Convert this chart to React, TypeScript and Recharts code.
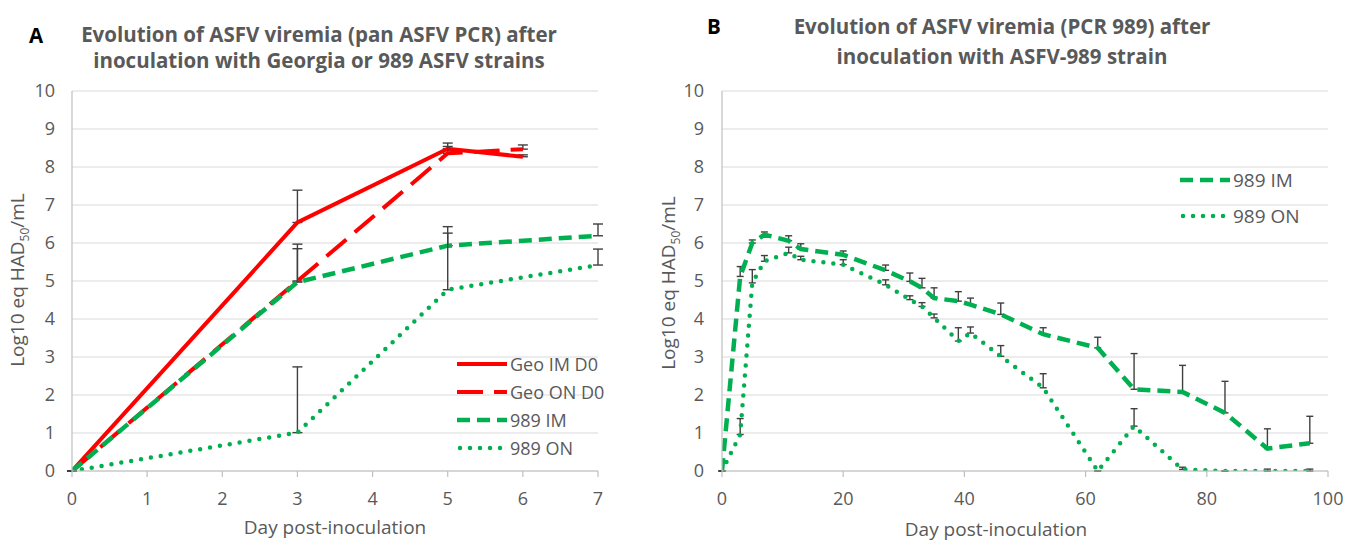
import React from 'react';
import { LineChart, Line, XAxis, YAxis, CartesianGrid, ErrorBar, Legend, Label } from 'recharts';

// ---------- Panel A data ----------
const daysGeo = [0, 3, 5, 6];
const geoIM = [0, 6.54, 8.48, 8.27];
const geoIMErr = [0, 0.85, 0.15, 0.05];
const geoON = [0, 5.0, 8.36, 8.47];
const geoONErr = [0, 0.85, 0.18, 0.11];

const days989A = [0, 3, 5, 7];
const im989A = [0, 4.97, 5.93, 6.19];
const im989AErr = [0, 1.0, 0.33, 0.31];
const on989A = [0, 1.01, 4.77, 5.42];
const on989AErr = [0, 1.73, 1.66, 0.42];

const ticksA = [0, 1, 2, 3, 4, 5, 6, 7];

// ---------- Panel B data ----------
const daysB = [0, 3, 5, 7, 11, 13, 20, 27, 31, 33, 35, 39, 41, 46, 53, 62, 68, 76, 83, 90, 97];
const imB = [0, 5.12, 6.0, 6.22, 6.06, 5.84, 5.69, 5.28, 4.99, 4.82, 4.55, 4.47, 4.38, 4.12, 3.6, 3.24, 2.15, 2.08, 1.53, 0.59, 0.73];
const imBErr = [0, 0.26, 0.08, 0.07, 0.13, 0.14, 0.1, 0.14, 0.22, 0.25, 0.27, 0.25, 0.17, 0.3, 0.17, 0.28, 0.94, 0.7, 0.83, 0.52, 0.71];
const onB = [0, 0.96, 4.95, 5.52, 5.74, 5.56, 5.43, 4.9, 4.51, 4.33, 4.03, 3.42, 3.63, 3.02, 2.19, 0, 1.18, 0.04, 0, 0, 0];
const onBErr = [0, 0.42, 0.35, 0.15, 0.15, 0.09, 0.13, 0.13, 0.1, 0.1, 0.1, 0.35, 0.16, 0.28, 0.37, 0, 0.46, 0.06, 0, 0.05, 0.05];

const ticksB = [0, 20, 40, 60, 80, 100];
const ticksY = [0, 1, 2, 3, 4, 5, 6, 7, 8, 9, 10];

const toRows = (days: number[], vals: number[], errs: number[]) =>
  days.map((day, i) => ({ day, v: vals[i], err: [0, errs[i]] }));

const rowsGeoIM = toRows(daysGeo, geoIM, geoIMErr);
const rowsGeoON = toRows(daysGeo, geoON, geoONErr);
const rows989IMA = toRows(days989A, im989A, im989AErr);
const rows989ONA = toRows(days989A, on989A, on989AErr);
const rowsIMB = toRows(daysB, imB, imBErr);
const rowsONB = toRows(daysB, onB, onBErr);

const FONT = '"Open Sans", sans-serif';
const GREY = '#595959';
const RED = '#ff0000';
const GREEN = '#00b050';
const ERR = '#404040';

type Style = { name: string; color: string; width: number; dash?: string; cap?: 'round' | 'butt' };

const sGeoIM: Style = { name: 'Geo IM D0', color: RED, width: 4 };
const sGeoON: Style = { name: 'Geo ON D0', color: RED, width: 4, dash: '26 11' };
const s989IM: Style = { name: '989 IM', color: GREEN, width: 4.5, dash: '13 7' };
const s989ON: Style = { name: '989 ON', color: GREEN, width: 4.5, dash: '0 10', cap: 'round' };

const LegendBox = ({ items, fontSize, rowH }: { items: Style[]; fontSize: number; rowH: number }) => (
  <div style={{ display: 'flex', flexDirection: 'column' }}>
    {items.map((it) => (
      <div key={it.name} style={{ height: rowH, display: 'flex', alignItems: 'center' }}>
        <svg width={50} height={10} style={{ display: 'block' }}>
          <line x1={it.cap === 'round' ? 3 : 0} x2={it.cap === 'round' ? 47 : 50} y1={5} y2={5} stroke={it.color}
            strokeWidth={it.width} strokeDasharray={it.dash} strokeLinecap={it.cap || 'butt'} />
        </svg>
        <span style={{ marginLeft: 3, fontSize, color: GREY, fontFamily: FONT, whiteSpace: 'nowrap', lineHeight: 1 }}>{it.name}</span>
      </div>
    ))}
  </div>
);

const makeYLabel = (dxBase: number, dyCenter: number) => (props: any) => {
  const vb = props.viewBox || { x: 0, y: 0, width: 0, height: 0 };
  const x = vb.x + dxBase;
  const y = vb.y + vb.height / 2 + dyCenter;
  return (
    <text x={x} y={y} transform={`rotate(-90 ${x} ${y})`} textAnchor="middle" fill={GREY}
      fontFamily={FONT} fontSize={19}>
      Log10 eq HAD<tspan fontSize={12} dy={5}>50</tspan><tspan dy={-5}>/mL</tspan>
    </text>
  );
};

const tickStyle = { fill: GREY, fontSize: 18, fontFamily: FONT };

const lineProps = (s: Style) => ({
  type: 'linear' as const,
  dataKey: 'v',
  stroke: s.color,
  strokeWidth: s.width,
  strokeDasharray: s.dash,
  strokeLinecap: s.cap || ('butt' as const),
  dot: false,
  activeDot: false,
  isAnimationActive: false,
  name: s.name,
});

const errProps = (w: number) => ({
  dataKey: 'err',
  direction: 'y' as const,
  width: w,
  stroke: ERR,
  strokeWidth: 1.4,
  isAnimationActive: false,
});

export default function App() {
  return (
    <div style={{ position: 'absolute', left: 0, top: 0, width: 1359, height: 541, background: '#fff', overflow: 'hidden' }}>
      <div style={{ position: 'absolute', left: 0, top: 0 }}>
        <LineChart width={660} height={541} margin={{ top: 91, right: 62, left: 32, bottom: 4 }}>
          <CartesianGrid vertical={false} stroke="#d9d9d9" strokeWidth={1.2} />
          <XAxis type="number" dataKey="day" domain={[0, 7]} ticks={ticksA} interval={0}
            stroke="#bfbfbf" strokeWidth={1.2} tickSize={6} tickMargin={15} tick={tickStyle} height={66}
            allowDataOverflow>
            <Label value="Day post-inoculation" position="insideBottom" offset={0} dy={-3} fill={GREY} fontSize={19} fontFamily={FONT} />
          </XAxis>
          <YAxis type="number" domain={[0, 10]} ticks={ticksY} interval={0} width={40}
            stroke="#bfbfbf" strokeWidth={1.2} tickLine={false} tickSize={0} tickMargin={17} tick={tickStyle}
            allowDataOverflow>
            <Label content={makeYLabel(-8, -1)} />
          </YAxis>
          <Line {...lineProps(sGeoIM)} data={rowsGeoIM}>
            <ErrorBar {...errProps(5)} />
          </Line>
          <Line {...lineProps(sGeoON)} data={rowsGeoON}>
            <ErrorBar {...errProps(5)} />
          </Line>
          <Line {...lineProps(s989IM)} data={rows989IMA}>
            <ErrorBar {...errProps(5)} />
          </Line>
          <Line {...lineProps(s989ON)} data={rows989ONA}>
            <ErrorBar {...errProps(5)} />
          </Line>
          <Legend layout="vertical" align="center" verticalAlign="middle"
            wrapperStyle={{ left: 457, top: 350, width: 170, height: 112 }}
            content={() => <LegendBox items={[sGeoIM, sGeoON, s989IM, s989ON]} fontSize={18} rowH={28} />} />
        </LineChart>
      </div>

      <div style={{ position: 'absolute', left: 650, top: 0 }}>
        <LineChart width={709} height={541} margin={{ top: 91, right: 31, left: 32, bottom: 4 }}>
          <CartesianGrid vertical={false} stroke="#d9d9d9" strokeWidth={1.2} />
          <XAxis type="number" dataKey="day" domain={[0, 100]} ticks={ticksB} interval={0}
            stroke="#bfbfbf" strokeWidth={1.2} tickSize={6} tickMargin={15} tick={tickStyle} height={66}
            allowDataOverflow>
            <Label value="Day post-inoculation" position="insideBottom" offset={0} dx={-29} dy={-1} fill={GREY} fontSize={19} fontFamily={FONT} />
          </XAxis>
          <YAxis type="number" domain={[0, 10]} ticks={ticksY} interval={0} width={40}
            stroke="#bfbfbf" strokeWidth={1.2} tickLine={false} tickSize={0} tickMargin={18} tick={tickStyle}
            allowDataOverflow>
            <Label content={makeYLabel(-7, 2)} />
          </YAxis>
          <Line {...lineProps(s989IM)} data={rowsIMB}>
            <ErrorBar {...errProps(3.5)} />
          </Line>
          <Line {...lineProps(s989ON)} data={rowsONB}>
            <ErrorBar {...errProps(3.5)} />
          </Line>
          <Legend layout="vertical" align="center" verticalAlign="middle"
            wrapperStyle={{ left: 530, top: 162, width: 150, height: 72 }}
            content={() => <LegendBox items={[s989IM, s989ON]} fontSize={19} rowH={36} />} />
        </LineChart>
      </div>

      <svg width={1359} height={541} style={{ position: 'absolute', left: 0, top: 0, pointerEvents: 'none' }}>
        <g fontFamily={FONT} fontWeight={700} fontSize={20.5}>
          <text x={29} y={43} fill="#000">A</text>
          <text x={319} y={42} textAnchor="middle" fill={GREY}>Evolution of ASFV viremia (pan ASFV PCR) after</text>
          <text x={319} y={68} textAnchor="middle" fill={GREY}>inoculation with Georgia or 989 ASFV strains</text>
          <text x={707} y={34} fill="#000">B</text>
          <text x={1002} y={34} textAnchor="middle" fill={GREY}>Evolution of ASFV viremia (PCR 989) after</text>
          <text x={1002} y={64} textAnchor="middle" fill={GREY}>inoculation with ASFV-989 strain</text>
        </g>
      </svg>
    </div>
  );
}
